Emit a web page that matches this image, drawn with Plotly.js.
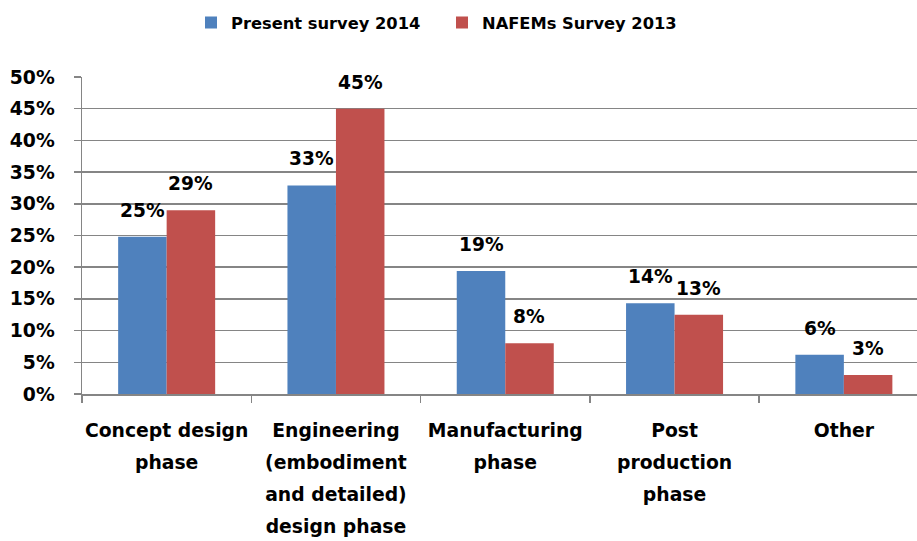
<!DOCTYPE html>
<html>
<head>
<meta charset="utf-8">
<script src="https://cdn.plot.ly/plotly-3.0.1.min.js"></script>
<style>html,body{margin:0;padding:0;background:#fff;}#chart{width:917px;height:541px;}</style>
</head>
<body>
<div id="chart"></div>
<script>
const categories = [
  'Concept design<br>phase',
  'Engineering<br>(embodiment<br>and detailed)<br>design phase',
  'Manufacturing<br>phase',
  'Post<br>production<br>phase',
  'Other'
];
const seriesNames = ['Present survey 2014', 'NAFEMs Survey 2013'];
const present2014 = [24.8, 32.9, 19.4, 14.3, 6.2];
const nafems2013 = [29.0, 45.0, 8.0, 12.5, 3.0];
const yTickValues = [0, 5, 10, 15, 20, 25, 30, 35, 40, 45, 50];
const yTickLabels = ['0%', '5%', '10%', '15%', '20%', '25%', '30%', '35%', '40%', '45%', '50%'];

const FONT = 'DejaVu Sans, sans-serif';
const blue = '#4F81BD';
const red = '#C0504D';
const gridColor = '#858585';

function wrapLines(s, size) {
  return s.split('<br>').map(l => '<span style="font-size:' + size + 'px">' + l + '</span>').join('<br>');
}

const traces = [
  {type: 'bar', name: seriesNames[0], x: categories, y: present2014, marker: {color: blue}, hoverinfo: 'x+y'},
  {type: 'bar', name: seriesNames[1], x: categories, y: nafems2013, marker: {color: red}, hoverinfo: 'x+y'}
];

const barHalf = 24.2;
const annotations = [];
[present2014, nafems2013].forEach((vals, si) => {
  vals.forEach((v, i) => {
    annotations.push({
      x: categories[i], y: v, xref: 'x', yref: 'y',
      text: Math.round(v) + '%',
      showarrow: false, yanchor: 'bottom', xanchor: 'center',
      xshift: si === 0 ? -barHalf : barHalf, yshift: 14,
      font: {family: FONT, size: 18.6, color: '#000', weight: 'bold'}
    });
  });
});

const layout = {
  width: 917, height: 541,
  margin: {l: 82, r: 0, t: 76.5, b: 147, pad: 0},
  paper_bgcolor: '#fff', plot_bgcolor: '#fff',
  barmode: 'group', bargap: 0.427, bargroupgap: 0,
  font: {family: FONT, color: '#000'},
  showlegend: true,
  legend: {
    orientation: 'h', xref: 'container', yref: 'container',
    x: 191 / 917, y: 1 - 23 / 541, xanchor: 'left', yanchor: 'middle',
    entrywidth: 206, entrywidthmode: 'pixels',
    font: {family: FONT, size: 16.3, color: '#000', weight: 'bold'},
    bgcolor: 'rgba(0,0,0,0)', traceorder: 'normal'
  },
  xaxis: {
    type: 'category', range: [-0.5, 4.432], fixedrange: true,
    tickson: 'boundaries', ticks: 'outside', ticklen: 7, tickwidth: 1.5, tickcolor: gridColor,
    tickvals: categories, ticktext: categories.map(c => wrapLines(c, 18.8)), tickangle: 0,
    tickfont: {family: FONT, size: 24.6, color: '#000', weight: 'bold'},
    showline: true, linecolor: gridColor, linewidth: 1.5,
    showgrid: false, automargin: false, ticklabelstandoff: 12
  },
  yaxis: {
    range: [0, 50], tickmode: 'array', tickvals: yTickValues, ticktext: yTickLabels, fixedrange: true,
    ticks: 'outside', ticklen: 7, tickwidth: 1.5, tickcolor: gridColor,
    tickfont: {family: FONT, size: 18.8, color: '#000', weight: 'bold'},
    showline: true, linecolor: gridColor, linewidth: 1.5,
    showgrid: true, gridcolor: gridColor, gridwidth: 1.5,
    zeroline: false, automargin: false, ticklabelstandoff: 15
  },
  annotations: annotations
};

Plotly.newPlot('chart', traces, layout, {displayModeBar: false, staticPlot: true});
</script>
</body>
</html>
